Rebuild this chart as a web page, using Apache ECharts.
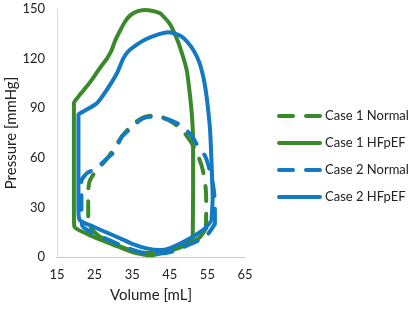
<!DOCTYPE html>
<html>
<head>
<meta charset="utf-8">
<script src="https://cdn.jsdelivr.net/npm/echarts@6/dist/echarts.min.js"></script>
<style>
  html, body { margin: 0; padding: 0; background: #fff; }
  #chart { width: 408px; height: 309px; }
</style>
</head>
<body>
<div id="chart"></div>
<script>
// 图例名称
const seriesNames = ["Case 1 Normal", "Case 1 HFpEF", "Case 2 Normal", "Case 2 HFpEF"];
const xTicks = [15, 25, 35, 45, 55, 65];
const yTicks = [0, 30, 60, 90, 120, 150];

// [volume, pressure] loops
const case1Normal = [
  [54.6, 17], [54.7, 30], [54.6, 40], [54.2, 48], [53.5, 55], [52.2, 63], [50.5, 70],
  [48.5, 76], [46, 81], [43, 84.5], [40.5, 85.5], [38, 84.5], [35.5, 81], [33, 75],
  [30.5, 67], [28.8, 61], [27, 56], [25, 51], [23.7, 46], [23.3, 40], [23.3, 28],
  [23.3, 20], [26, 13], [30, 8], [34, 4.5], [38, 2.5], [42, 2.5], [46, 4.5],
  [50, 8], [53, 12], [54.6, 17]
];
const case1HFpEF = [
  [51.1, 11], [51.2, 40], [51.2, 71], [50.9, 85], [50.5, 95], [49.5, 113], [47.7, 127],
  [46.3, 135], [45, 141], [43.5, 145], [42.4, 147.4], [40.5, 148.8], [38.4, 149.4],
  [36.3, 148.5], [34.4, 146], [33, 142], [31.8, 137], [30.5, 131], [29.5, 125],
  [28.3, 120], [27.3, 117], [25.7, 112], [24.2, 107], [22.5, 102], [20.7, 97],
  [19.5, 93], [19.5, 60], [19.5, 30], [19.6, 18.5], [23, 14], [27, 10], [31, 6.5],
  [35, 3], [38, 1.5], [40, 1], [43, 2.5], [46.5, 5], [49.5, 8.5], [51.1, 11]
];
const case2Normal = [
  [57, 20], [57, 33], [56.6, 42], [55.7, 52], [54.4, 61], [52.5, 67], [51.2, 72],
  [49.5, 76.5], [47.7, 80], [44.2, 83.5], [41.5, 84.8], [39.7, 84.9], [37.5, 83.5],
  [35.7, 80], [34, 76.5], [32.2, 72.8], [30.4, 64], [28.5, 60], [26.9, 56.7],
  [24.5, 52.5], [22.9, 50.6], [21.5, 46], [21.5, 30], [21.7, 19], [23.8, 15.3],
  [27.8, 11.3], [31.8, 7.3], [35, 4.5], [37.5, 2.8], [40, 2.3], [43, 2.2], [46, 3.5],
  [49, 6.3], [52.2, 9.5], [55, 13.5], [57, 20]
];
const case2HFpEF = [
  [56.1, 22], [56.4, 36], [56.1, 57], [55.7, 77], [55.2, 89], [54.6, 100], [53.9, 109],
  [52.8, 118], [51.3, 125], [49.5, 130.5], [47.7, 134], [44.6, 136], [42.4, 135],
  [38.9, 132], [35.3, 127], [33.8, 124], [32.6, 120], [30.9, 111], [28.2, 101],
  [25.6, 93], [22, 88], [20.7, 86], [20.7, 60], [20.7, 30], [21, 22.5], [24.7, 18.3],
  [28, 15], [31.8, 11.3], [35, 8], [38.9, 5.2], [42.4, 4.2], [45.9, 6.2], [50.4, 11.3],
  [54.4, 17.4], [56.1, 22]
];

const green = "#3a8a2c";
const blue = "#1279c2";
const font = "Lato, 'Open Sans', sans-serif";
const dash = [15, 13];

function loop(name, data, color, dashed) {
  return {
    name: name,
    type: "line",
    data: data,
    smooth: 0.2,
    symbol: "none",
    lineStyle: {
      color: color,
      width: 4,
      type: dashed ? dash : "solid",
      cap: dashed ? "round" : "butt",
      join: "round",
    },
    itemStyle: { color: color },
  };
}

function legendItem(name, color, dashed) {
  return {
    name: name,
    itemStyle: { opacity: 0 },
    lineStyle: {
      color: color,
      width: 4,
      type: dashed ? [14, 13] : "solid",
      cap: "round",
    },
  };
}

const myChart = echarts.init(document.getElementById("chart"));
const option = {
  animation: false,
  textStyle: { fontFamily: font },
  grid: { left: 57, top: 9, width: 188, height: 248 },
  legend: {
    orient: "vertical",
    left: 277,
    top: 109,
    padding: 0,
    itemWidth: 41,
    itemHeight: 14,
    itemGap: 13,
    data: [
      legendItem(seriesNames[0], green, true),
      legendItem(seriesNames[1], green, false),
      legendItem(seriesNames[2], blue, true),
      legendItem(seriesNames[3], blue, false),
    ],
    textStyle: { fontFamily: font, fontSize: 13, lineHeight: 14, color: "#222" },
  },
  xAxis: {
    type: "value",
    min: xTicks[0],
    max: xTicks[xTicks.length - 1],
    interval: 10,
    name: "Volume [mL]",
    nameLocation: "middle",
    nameGap: 31,
    nameTextStyle: { fontFamily: font, fontSize: 15, color: "#222" },
    axisLine: { lineStyle: { color: "#c8c8c8", width: 1 } },
    axisTick: { show: false },
    splitLine: { show: false },
    axisLabel: { fontFamily: font, fontSize: 13, color: "#222", margin: 11 },
  },
  yAxis: {
    type: "value",
    min: yTicks[0],
    max: yTicks[yTicks.length - 1],
    interval: 30,
    name: "Pressure [mmHg]",
    nameLocation: "middle",
    nameGap: 36,
    nameTextStyle: { fontFamily: font, fontSize: 15, color: "#222" },
    axisLine: { show: true, lineStyle: { color: "#d9d9d9", width: 1 } },
    axisTick: { show: false },
    splitLine: { show: false },
    axisLabel: { fontFamily: font, fontSize: 13, color: "#222", margin: 12 },
  },
  series: [
    loop(seriesNames[0], case1Normal, green, true),
    loop(seriesNames[1], case1HFpEF, green, false),
    loop(seriesNames[2], case2Normal, blue, true),
    loop(seriesNames[3], case2HFpEF, blue, false),
  ],
};
myChart.setOption(option);
</script>
</body>
</html>
